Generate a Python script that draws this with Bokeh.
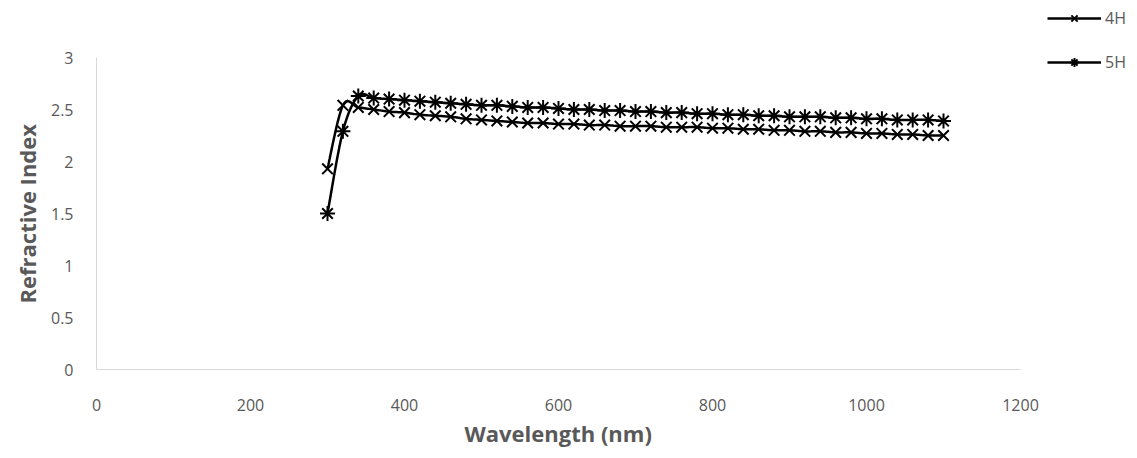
import numpy as np
from bokeh.plotting import figure
from bokeh.models import Legend, LegendItem, FixedTicker, CustomJSTickFormatter, Range1d, Title
from bokeh.embed import file_html
from bokeh.resources import INLINE

# ---- data ----
wavelength = [300, 320, 340, 360, 380, 400, 420, 440, 460, 480, 500, 520, 540, 560,
              580, 600, 620, 640, 660, 680, 700, 720, 740, 760, 780, 800, 820, 840,
              860, 880, 900, 920, 940, 960, 980, 1000, 1020, 1040, 1060, 1080, 1100]
n_4H = [1.93, 2.54, 2.52, 2.50, 2.48, 2.47, 2.45, 2.44, 2.43, 2.41, 2.40, 2.39, 2.38, 2.37,
        2.37, 2.36, 2.36, 2.35, 2.35, 2.34, 2.34, 2.34, 2.33, 2.33, 2.33, 2.32, 2.32, 2.31,
        2.31, 2.30, 2.30, 2.29, 2.29, 2.28, 2.28, 2.27, 2.27, 2.26, 2.26, 2.25, 2.25]
n_5H = [1.50, 2.29, 2.63, 2.61, 2.60, 2.59, 2.58, 2.57, 2.56, 2.55, 2.54, 2.54, 2.53, 2.52,
        2.52, 2.51, 2.50, 2.50, 2.49, 2.49, 2.48, 2.48, 2.47, 2.47, 2.46, 2.46, 2.45, 2.45,
        2.44, 2.44, 2.43, 2.43, 2.43, 2.42, 2.42, 2.41, 2.41, 2.40, 2.40, 2.40, 2.39]
series_names = ["4H", "5H"]
x_ticks = [0, 200, 400, 600, 800, 1000, 1200]
y_ticks = [0, 0.5, 1, 1.5, 2, 2.5, 3]


def smooth(xs, ys, n=10):
    """Catmull-Rom rendering of a smoothed line through the data points."""
    xs = np.asarray(xs, float); ys = np.asarray(ys, float)
    ox, oy = [], []
    m = len(xs)
    for i in range(m - 1):
        i0 = max(i - 1, 0); i3 = min(i + 2, m - 1)
        p0 = np.array([xs[i0], ys[i0]]); p1 = np.array([xs[i], ys[i]])
        p2 = np.array([xs[i + 1], ys[i + 1]]); p3 = np.array([xs[i3], ys[i3]])
        for t in np.linspace(0, 1, n, endpoint=False):
            t2, t3 = t * t, t * t * t
            pt = 0.5 * ((2 * p1) + (-p0 + p2) * t + (2 * p0 - 5 * p1 + 4 * p2 - p3) * t2
                        + (-p0 + 3 * p1 - 3 * p2 + p3) * t3)
            ox.append(pt[0]); oy.append(pt[1])
    ox.append(xs[-1]); oy.append(ys[-1])
    return ox, oy


GRAY = "#595959"
FONT = "Open Sans"

# layout (pixels)
W, H = 1137, 458
LEFT, BOTTOM = 96, 89
PLOT_RIGHT, PLOT_TOP = 1020, 57          # where x=1200 and y=3 land
frame_w, frame_h = W - LEFT, H - BOTTOM
x_end = x_ticks[-1] * frame_w / (PLOT_RIGHT - LEFT)
y_end = y_ticks[-1] * frame_h / (frame_h - PLOT_TOP)

p = figure(width=W, height=H, output_backend="svg", toolbar_location=None,
           x_range=Range1d(0, x_end), y_range=Range1d(0, y_end),
           min_border_left=LEFT, min_border_right=0, min_border_top=0, min_border_bottom=BOTTOM)
p.outline_line_color = None
p.xgrid.grid_line_color = None
p.ygrid.grid_line_color = None

for ax in (p.xaxis[0], p.yaxis[0]):
    ax.axis_line_color = "#d9d9d9"
    ax.axis_line_width = 1
    ax.major_tick_line_color = None
    ax.minor_tick_line_color = None
    ax.major_tick_out = 0
    ax.major_tick_in = 0
    ax.minor_tick_out = 0
    ax.minor_tick_in = 0
    ax.major_label_text_color = GRAY
    ax.major_label_text_font = FONT
    ax.major_label_text_font_size = "16px"
    ax.formatter = CustomJSTickFormatter(code="return tick.toString();")

p.xaxis.ticker = FixedTicker(ticks=x_ticks)
p.yaxis.ticker = FixedTicker(ticks=y_ticks)
p.xaxis.bounds = (x_ticks[0], x_ticks[-1])
p.yaxis.bounds = (y_ticks[0], y_ticks[-1])
p.xaxis.major_label_standoff = 29
p.yaxis.major_label_standoff = 23

# axis titles, centred on the plotted area rather than on the whole frame
plot_cx = (LEFT + PLOT_RIGHT) / 2
plot_cy = (PLOT_TOP + frame_h) / 2
XT_HALF, YT_HALF = 94, 90               # half lengths of the two titles (px)
xt = Title(text="Wavelength (nm)", align="left", offset=plot_cx - XT_HALF - LEFT,
           text_font=FONT, text_font_size="22px", text_font_style="bold",
           text_color=GRAY, standoff=5)
yt = Title(text="Refractive Index", align="left", offset=frame_h - (plot_cy + YT_HALF),
           text_font=FONT, text_font_size="22px", text_font_style="bold",
           text_color=GRAY, standoff=12)
p.add_layout(xt, "below")
p.add_layout(yt, "left")

sx4, sy4 = smooth(wavelength, n_4H)
sx5, sy5 = smooth(wavelength, n_5H)
l4 = p.line(sx4, sy4, line_color="black", line_width=2.5)
m4 = p.scatter(wavelength, n_4H, marker="x", size=15, line_color="black", line_width=2)
l5 = p.line(sx5, sy5, line_color="black", line_width=2.5)
m5 = p.scatter(wavelength, n_5H, marker="asterisk", size=15, line_color="black", line_width=2)

legend = Legend(items=[LegendItem(label=series_names[0], renderers=[l4, m4]),
                       LegendItem(label=series_names[1], renderers=[l5, m5])],
                location=(951, frame_h - 73), orientation="vertical",
                glyph_width=54, glyph_height=22, label_standoff=4, spacing=22,
                padding=0, margin=0, border_line_color=None, background_fill_alpha=0,
                label_text_color=GRAY, label_text_font=FONT, label_text_font_size="16px")
p.add_layout(legend, "center")

open("out.html", "w").write(file_html(p, INLINE))
